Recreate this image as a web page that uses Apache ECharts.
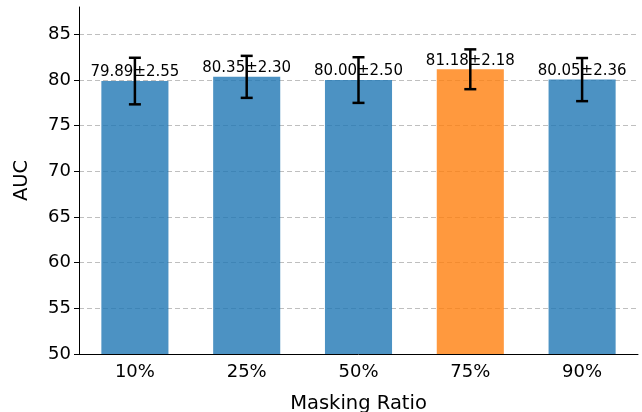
<!DOCTYPE html>
<html>
<head>
<meta charset="utf-8">
<script src="https://cdn.jsdelivr.net/npm/echarts@6/dist/echarts.min.js"></script>
<style>html,body{margin:0;padding:0;background:#fff}#c{width:642px;height:412px}</style>
</head>
<body>
<div id="c"></div>
<script>
const categories = ['10%', '25%', '50%', '75%', '90%'];
const means = [79.89, 80.35, 80.00, 81.18, 80.05];
const stds = [2.55, 2.30, 2.50, 2.18, 2.36];
const highlightIndex = 3;
const yTicks = [50, 55, 60, 65, 70, 75, 80, 85];

const FONT = 'DejaVu Sans';
const chart = echarts.init(document.getElementById('c'), null, {renderer: 'canvas'});

const barData = means.map((m, i) => ({
  value: m,
  itemStyle: {color: i === highlightIndex ? 'rgba(255,127,14,0.8)' : 'rgba(31,119,180,0.8)'}
}));

const errData = means.map((m, i) => [i, m - stds[i], m + stds[i]]);

chart.setOption({
  animation: false,
  grid: {left: 79, right: 4, top: 7, bottom: 58, containLabel: false, outerBoundsMode: 'none'},
  xAxis: {
    type: 'category',
    data: categories,
    boundaryGap: true,
    name: 'Masking Ratio',
    nameLocation: 'middle',
    nameGap: 40,
    nameTextStyle: {fontFamily: FONT, fontSize: 19.5, color: '#000'},
    axisLine: {lineStyle: {color: '#000', width: 1}},
    axisTick: {alignWithLabel: true, length: 5, lineStyle: {color: '#000'}},
    axisLabel: {fontFamily: FONT, fontSize: 18, color: '#000', margin: 9}
  },
  yAxis: {
    type: 'value',
    min: 50,
    max: 88,
    interval: 5,
    name: 'AUC',
    nameLocation: 'middle',
    nameGap: 47,
    nameTextStyle: {fontFamily: FONT, fontSize: 19.5, color: '#000'},
    axisLine: {show: true, lineStyle: {color: '#000', width: 1}},
    axisTick: {show: true, length: 5, customValues: yTicks, lineStyle: {color: '#000'}},
    axisLabel: {
      fontFamily: FONT, fontSize: 18, color: '#000', margin: 8,
      customValues: yTicks
    },
    splitLine: {show: true, lineStyle: {color: '#bfbfbf', type: [5, 3], width: 1}}
  },
  series: [
    {
      type: 'bar',
      data: barData,
      barWidth: '60%',
      z: 2,
      label: {
        show: true,
        position: 'top',
        distance: 1,
        fontFamily: FONT,
        fontSize: 15,
        color: '#000',
        formatter: p => means[p.dataIndex].toFixed(2) + '±' + stds[p.dataIndex].toFixed(2)
      }
    },
    {
      type: 'custom',
      z: 10,
      data: errData,
      renderItem: (params, api) => {
        const x = api.value(0);
        const lo = api.coord([x, api.value(1)]);
        const hi = api.coord([x, api.value(2)]);
        const cap = 6;
        const style = {stroke: '#000', lineWidth: 2.5};
        return {
          type: 'group',
          children: [
            {type: 'line', shape: {x1: lo[0], y1: lo[1], x2: hi[0], y2: hi[1]}, style},
            {type: 'line', shape: {x1: lo[0] - cap, y1: lo[1], x2: lo[0] + cap, y2: lo[1]}, style},
            {type: 'line', shape: {x1: hi[0] - cap, y1: hi[1], x2: hi[0] + cap, y2: hi[1]}, style}
          ]
        };
      }
    }
  ]
});
</script>
</body>
</html>
